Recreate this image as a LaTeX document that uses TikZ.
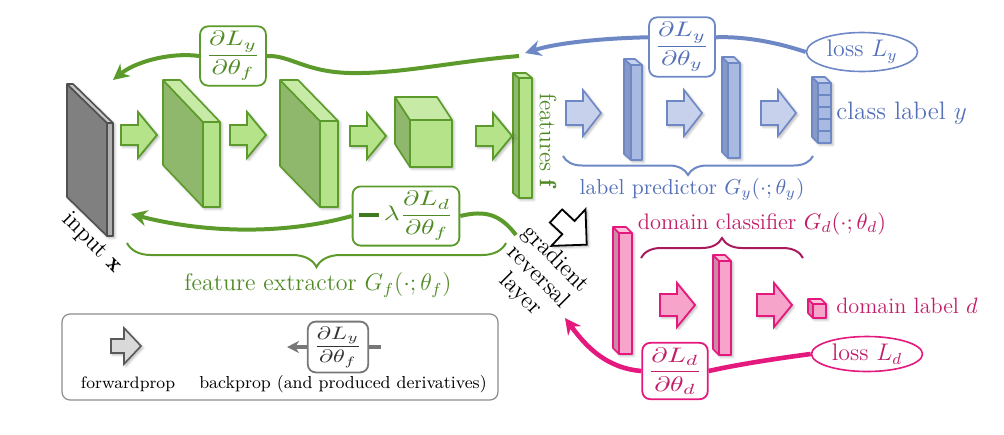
\RequirePackage{fix-cm}
\documentclass[tikz,border=0pt]{standalone}
\usepackage{amsmath,bm,graphicx}
\usepackage{fontspec}
\usetikzlibrary{arrows.meta,decorations.pathreplacing,shadows.blur,shapes.geometric}

% palette
\definecolor{gline}{HTML}{5C9B2B}
\definecolor{gtext}{HTML}{4F8A25}
\definecolor{gdark}{HTML}{3F7A1F}
\definecolor{gfront}{HTML}{B4E38A}
\definecolor{gside}{HTML}{8FB86C}
\definecolor{gtop}{HTML}{C7EBA6}
\definecolor{bline}{HTML}{6E88C6}
\definecolor{btext}{HTML}{5470B8}
\definecolor{bfront}{HTML}{A8B9E2}
\definecolor{bside}{HTML}{8899C6}
\definecolor{btop}{HTML}{C6D1EE}
\definecolor{bfill}{HTML}{C7D1EC}
\definecolor{mline}{HTML}{E5197D}
\definecolor{mtext}{HTML}{C21D68}
\definecolor{mbrace}{HTML}{A81A5C}
\definecolor{mfront}{HTML}{F7A4CB}
\definecolor{mside}{HTML}{C98BA9}
\definecolor{mtop}{HTML}{F9C3DC}
\definecolor{kline}{HTML}{505050}
\definecolor{kfront}{HTML}{B0B0B0}
\definecolor{kside}{HTML}{808080}
\definecolor{ktop}{HTML}{C5C5C5}
\definecolor{lline}{HTML}{777777}
\definecolor{ltext}{HTML}{333333}

% 3-D block: #1 colour family, (#2,#3) back-top corner, (#4,#5) depth offset, #6 width, #7 height
\newcommand{\cuboid}[7]{%
  \path[softshadow, fill=#1front] (#2,#3) -- ++(#6,0) -- ++(#4,#5) -- ++(0,#7) -- ++(-#6,0) -- ++(-#4,-#5) -- cycle;
  \filldraw[draw=#1line, fill=#1side, faceline] (#2,#3) -- ++(#4,#5) -- ++(0,#7) -- ++(-#4,-#5) -- cycle;
  \filldraw[draw=#1line, fill=#1top, faceline] (#2,#3) -- ++(#6,0) -- ++(#4,#5) -- ++(-#6,0) -- cycle;
  \filldraw[draw=#1line, fill=#1front, faceline] (#2+#4,#3+#5) rectangle ++(#6,#7);
}
% block arrow: #1 style, #2 tail x, #3 centre y, #4 length, #5 head length, #6 half shaft, #7 half head
\newcommand{\fwd}[7]{%
  \filldraw[#1] (#2,#3-#6) -- (#2+#4-#5,#3-#6) -- (#2+#4-#5,#3-#7) -- (#2+#4,#3)
    -- (#2+#4-#5,#3+#7) -- (#2+#4-#5,#3+#6) -- (#2,#3+#6) -- cycle;
}
% partial derivative
\newcommand{\dpart}[2]{\scalebox{1.3}[1]{$\dfrac{\partial #1}{\partial #2}$}}

\begin{document}
\begin{tikzpicture}[x=0.5pt, y=-0.5pt,
  faceline/.style={line width=0.8pt, line join=round},
  softshadow/.style={blur shadow={shadow xshift=0.9pt, shadow yshift=-0.9pt, shadow blur radius=1.3pt, shadow blur steps=6, shadow opacity=30}},
  garrow/.style={softshadow, fill=gfront, draw=gline, line width=0.9pt},
  barrow/.style={softshadow, fill=bfill, draw=bline, line width=0.8pt},
  marrow/.style={softshadow, fill=mfront, draw=mline, line width=0.9pt},
  karrow/.style={softshadow, fill=white, draw=black, line width=0.9pt},
  larrow/.style={softshadow, fill=black!15, draw=black!65, line width=0.8pt},
  back/.style={line width=2pt},
  tip/.style={-{Stealth[length=8pt,width=8pt]}},
  fracbox/.style={draw=#1line, text=#1text, fill=white, rounded corners=4pt, line width=0.9pt,
                  inner xsep=3pt, inner ysep=2.5pt, font=\fontsize{10.5}{12}\selectfont},
  brace/.style={decorate, decoration={brace, amplitude=#1}, line width=1pt},
  lossnode/.style={ellipse, draw=#1line, text=#1text, line width=0.8pt, inner sep=0pt,
                   minimum width=55.5pt, font=\fontsize{12}{14}\selectfont},
  lbl/.style={inner sep=0pt},
]
\useasboundingbox (0,0) rectangle (1004,434);

% ---- backprop paths (drawn first, boxes sit on top) ----
\coordinate (fstart) at (519,56);
\coordinate (ftip) at (113,80);
\coordinate (btip) at (525,53);
\coordinate (grlstart) at (516,235);
\coordinate (ltip2) at (131,214);
\coordinate (mtip) at (565,318);

\node[fracbox=g] (dLyf) at (233,56) {\dpart{L_y}{\theta_f}};
\node[fracbox=b] (dLyy) at (682,47) {\dpart{L_y}{\theta_y}};
\node[fracbox=m] (dLdd) at (675,371) {\dpart{L_d}{\theta_d}};
\node[fracbox=g] (lam) at (406,216) {\scalebox{1.3}[1]{\textcolor{gdark}{\rule[1.7pt]{8pt}{1.9pt}}\,$\lambda\dfrac{\partial L_d}{\partial\theta_f}$}};
\node[lossnode=b, minimum height=19.5pt] (lossy) at (862,52) {loss $L_y$};
\node[lossnode=m, minimum height=17.5pt] (lossd) at (867,354) {loss $L_d$};

\draw[back, bline] (lossy.west) .. controls (785,45) and (750,36) .. (dLyy.16);
\draw[back, bline, tip] (dLyy.164) .. controls (610,38) and (560,42) .. (btip);
\draw[back, gline] (fstart) .. controls (450,62) and (400,74) .. (350,73) .. controls (305,72) and (290,55) .. (dLyf.east);
\draw[back, gline, tip] (dLyf.west) .. controls (170,52) and (135,62) .. (ftip);
\draw[back, gline] (grlstart) .. controls (500,214) and (485,210) .. (lam.east);
\draw[back, gline, tip] (lam.west) .. controls (280,236) and (200,232) .. (ltip2);
\draw[back, mline, line width=2.3pt] (lossd.west) .. controls (780,358) and (740,364) .. (dLdd.east);
\draw[back, mline, line width=2.3pt, tip] (dLdd.west) .. controls (605,368) and (585,345) .. (mtip);

% ---- feature extractor ----
\cuboid{k}{67}{84}{40}{39}{6}{113}
\cuboid{g}{163}{80}{40}{42}{17}{85}
\cuboid{g}{280}{80}{40}{41}{18}{86}
\cuboid{g}{395}{97}{15}{23}{42}{47}
\cuboid{g}{513}{73}{6}{5}{13}{120}
\fwd{garrow}{121}{135}{36}{19}{10}{23}
\fwd{garrow}{230}{135}{36}{19}{10}{23}
\fwd{garrow}{350}{136}{36}{19}{10}{23}
\fwd{garrow}{476}{136}{36}{19}{10}{23}

% ---- label predictor ----
\cuboid{b}{624}{59}{7}{6}{11}{95}
\cuboid{b}{722}{57}{6}{6}{12}{95}
\cuboid{b}{812}{77}{6}{6}{13}{60}
\foreach \k in {1,...,4} \draw[bline, faceline] (818,83+12*\k) -- ++(13,0);
\fwd{barrow}{566}{113}{35}{18}{12}{23}
\fwd{barrow}{667}{113}{35}{18}{12}{23}
\fwd{barrow}{761}{113}{35}{18}{12}{23}

% ---- domain classifier ----
\cuboid{m}{613}{227}{6}{6}{13}{121}
\cuboid{m}{713}{255}{6}{6}{12}{94}
\cuboid{m}{808}{299}{5}{5}{13}{14}
\fwd{marrow}{660}{305}{35}{18}{11}{22}
\fwd{marrow}{757}{305}{35}{18}{11}{22}

% gradient reversal arrow
\begin{scope}[shift={(556,216)}, rotate=-43]
  \fwd{karrow}{0}{0}{42}{25}{9}{25}
\end{scope}

% ---- braces ----
\coordinate (bbr1) at (813,156); \coordinate (bbr2) at (563,156);
\coordinate (gbr1) at (506,243); \coordinate (gbr2) at (127,243);
\coordinate (mbr1) at (641,258); \coordinate (mbr2) at (803,258);
\draw[brace=9.5pt, bline] (bbr1) -- (bbr2);
\draw[brace=12pt, gline] (gbr1) -- (gbr2);
\draw[brace=10pt, mbrace] (mbr1) -- (mbr2);

% ---- labels ----
\node[lbl, text=btext, anchor=west, font=\fontsize{12.6}{15}\selectfont] (ylabel) at (836,113) {class label $y$};
\node[lbl, text=mtext, anchor=west, font=\fontsize{11.1}{13}\selectfont] (dlabel) at (836,306) {domain label $d$};
\node[lbl, text=btext, font=\fontsize{10.8}{13}\selectfont] (lp) at (692,189) {label predictor $G_y(\cdot;\theta_y)$};
\node[lbl, text=gtext, font=\fontsize{12}{14}\selectfont] (fe) at (318,285) {feature extractor $G_f(\cdot;\theta_f)$};
\node[lbl, text=mtext, font=\fontsize{11.2}{13}\selectfont] (dc) at (762,224) {domain classifier $G_d(\cdot;\theta_d)$};
\node[lbl, text=gtext, rotate=-90, font=\fontsize{11.8}{14}\selectfont] (feat) at (548,140) {features $\mathbf{f}$};
\node[lbl, rotate=-45, font=\fontsize{12}{14}\selectfont] (inp) at (92,243) {input $\mathbf{x}$};
\node[lbl, rotate=-45, align=center, font=\fontsize{12}{12.4}\selectfont] (grl) at (538,277) {gradient\\reversal\\layer};

% ---- legend ----
\node[draw=black!45, rounded corners=4pt, line width=0.6pt, minimum width=218pt, minimum height=43pt, inner sep=0pt] (legend) at (280,357) {};
\fwd{larrow}{111}{346}{30}{17}{7}{18}
\node[lbl, font=\fontsize{8.3}{10}\selectfont] (fwdtxt) at (128,384) {forwardprop};
\node[lbl, font=\fontsize{8.7}{10}\selectfont] (bwdtxt) at (343,384) {backprop (and produced derivatives)};
\coordinate (lstart) at (381,347);
\coordinate (ltip) at (287,347);
\node[fracbox=l, font=\fontsize{9}{10}\selectfont] (legfrac) at (338,347) {\dpart{L_y}{\theta_f}};
\draw[back, lline] (lstart) -- (legfrac.east);
\draw[back, lline, -{Stealth[length=6pt,width=6pt]}] (legfrac.west) -- (ltip);
\end{tikzpicture}
\end{document}
